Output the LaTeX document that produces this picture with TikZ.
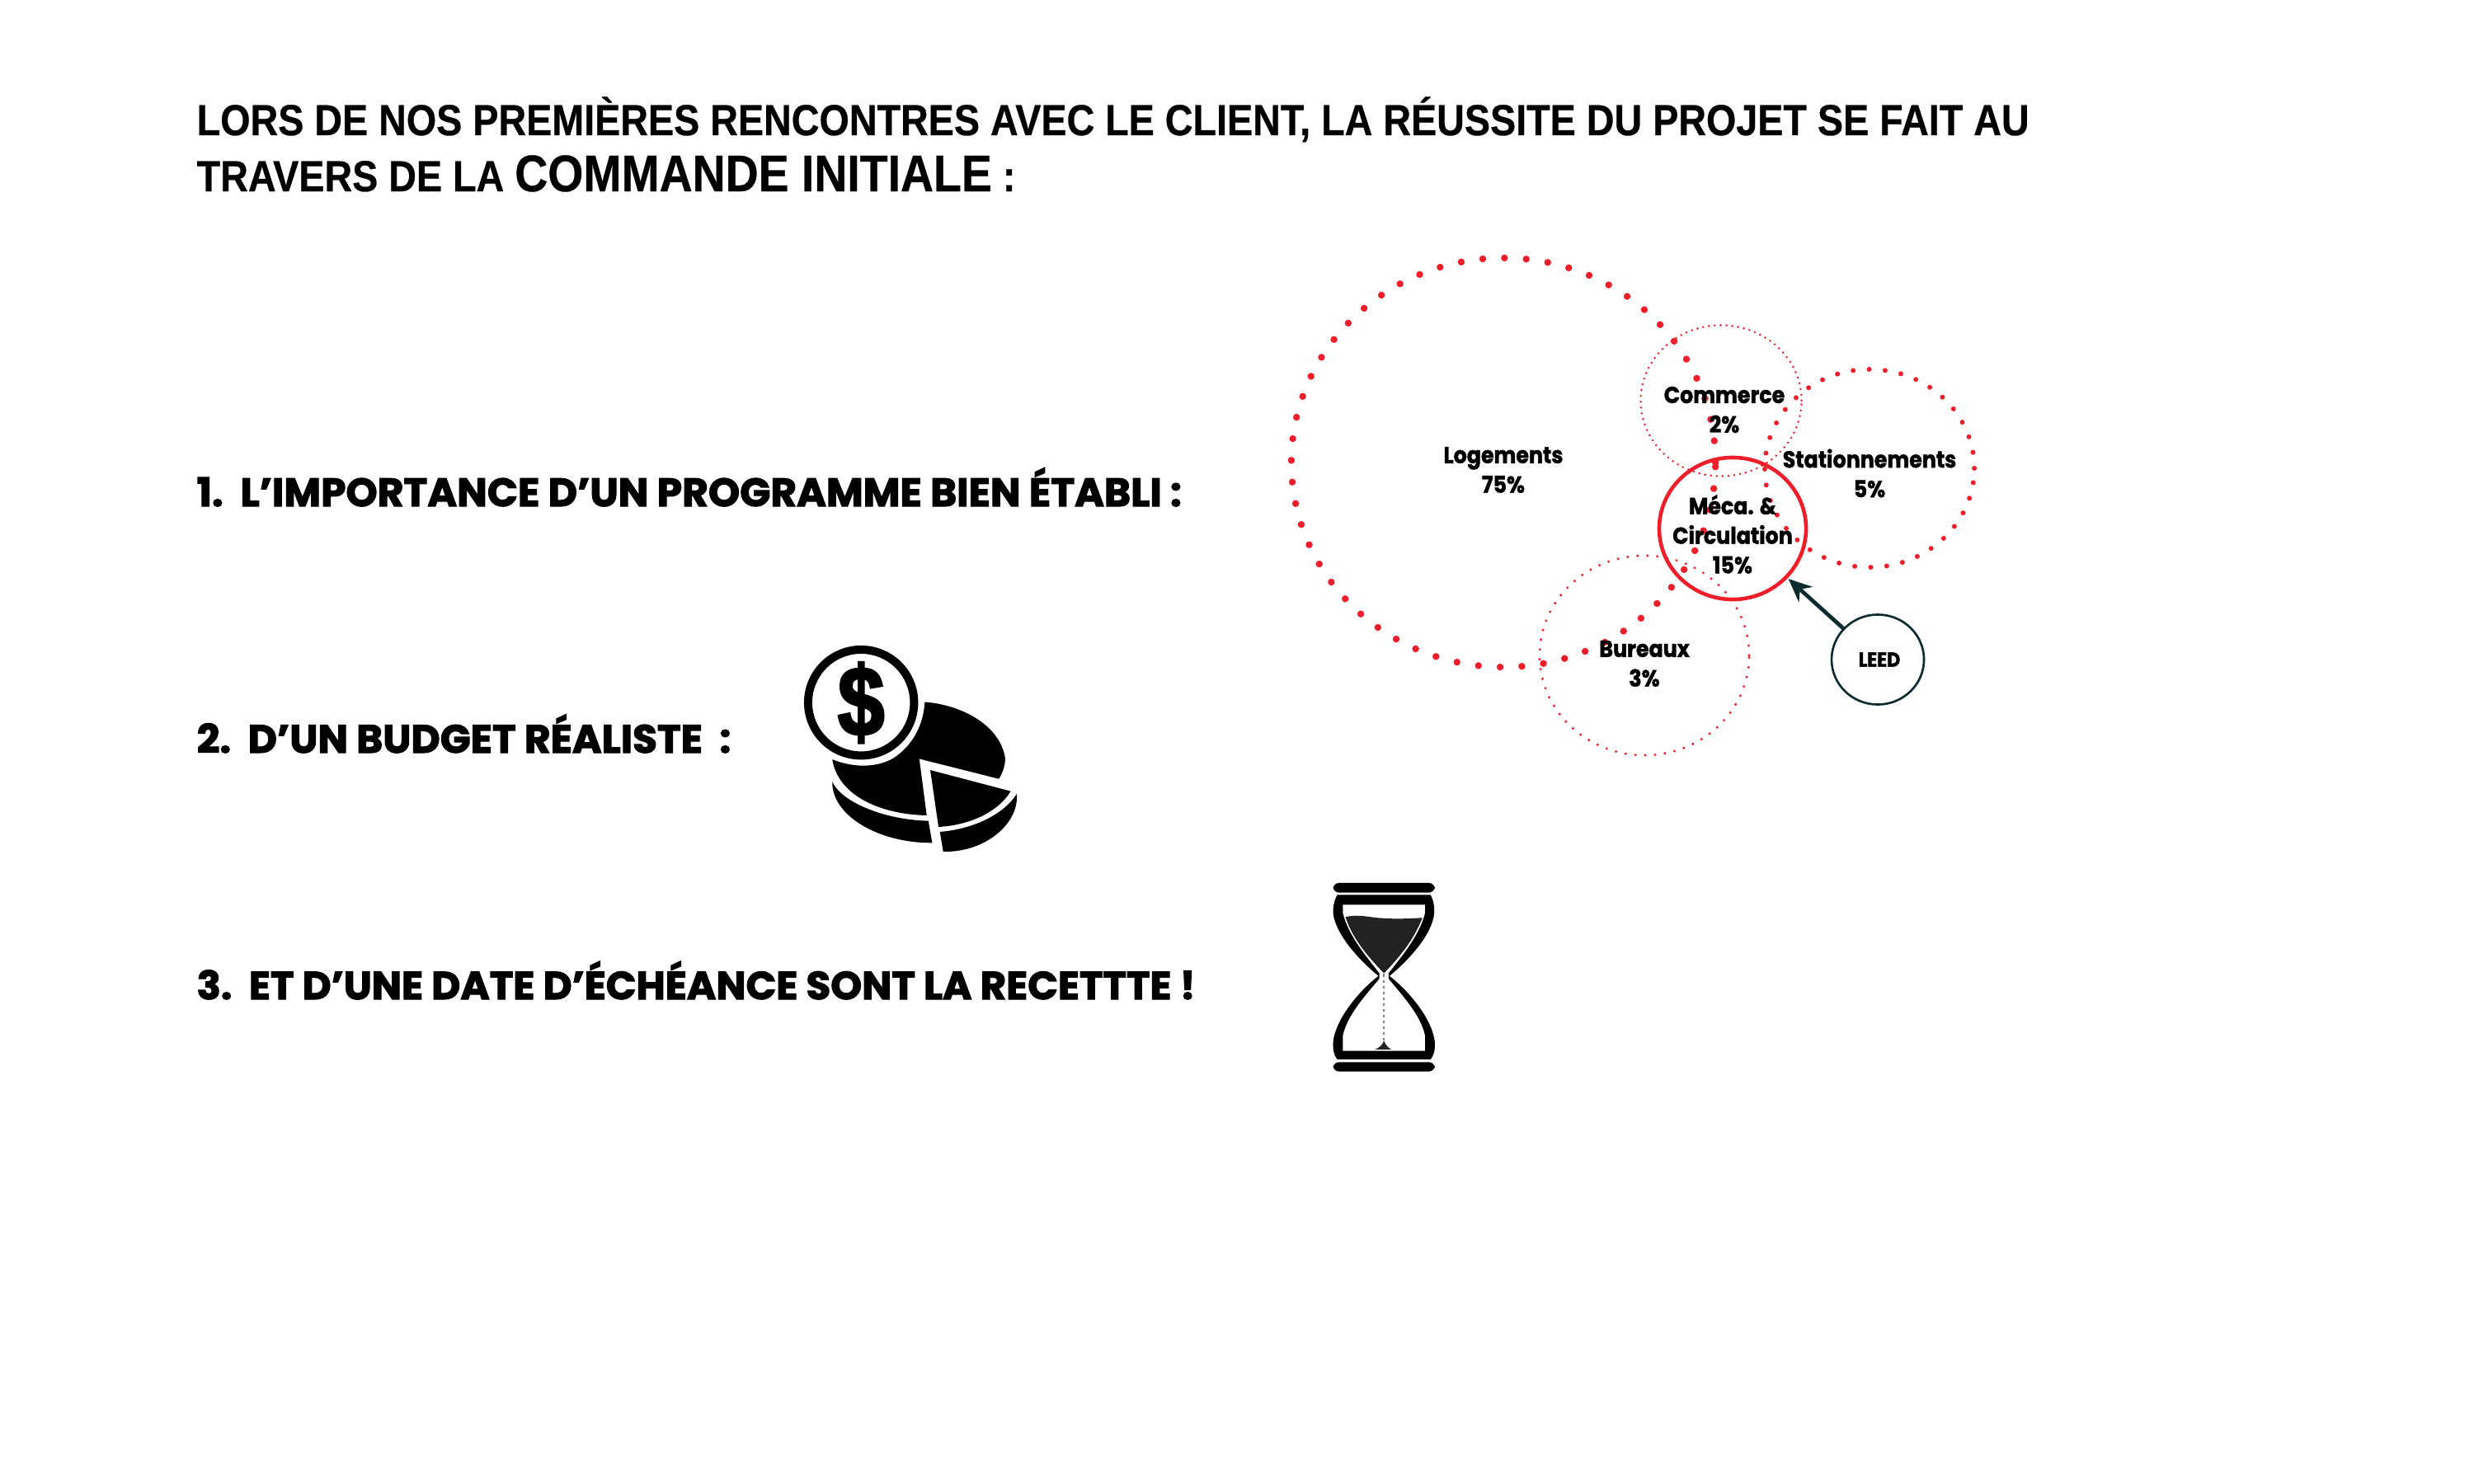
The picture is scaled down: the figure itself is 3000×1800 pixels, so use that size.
\documentclass[tikz,border=0pt]{standalone}
\usepackage{fontspec}
\usetikzlibrary{shapes.geometric,arrows.meta}
\setmainfont[FakeStretch=0.885,FakeBold=0.5]{Liberation Sans}
\newfontfamily\heavy[FakeStretch=1.015,FakeBold=2.4]{Poppins}
\newfontfamily\heavysmall[FakeStretch=0.9,FakeBold=1.6]{Poppins}
\newfontfamily\dollarfont[FakeStretch=0.85,FakeBold=2.5]{Liberation Sans}
\definecolor{redc}{HTML}{EE1F2B}
\definecolor{darkc}{HTML}{0D2A2E}
\definecolor{sandc}{HTML}{222222}
\tikzset{
  ring/.style={ellipse,inner sep=0pt,outer sep=0pt,draw=redc,line cap=round},
  bigdots/.style={ring,line width=2.4pt,dash pattern=on 0pt off 7.5pt},
  middots/.style={ring,line width=1.7pt,dash pattern=on 0pt off 5.535pt},
  finedots/.style={ring,line width=0.95pt,dash pattern=on 0pt off 3.4pt},
  tinydots/.style={ring,line width=0.8pt,dash pattern=on 0pt off 2.02pt},
  lab/.style={font=\heavysmall\bfseries\fontsize{8}{10.2}\selectfont,align=center,inner sep=0pt},
  heading/.style={font=\bfseries\fontsize{15}{17}\selectfont,anchor=base west,inner sep=0pt},
  itemtext/.style={font=\heavy\bfseries\fontsize{13.6}{16}\selectfont,anchor=base west,inner sep=0pt},
  icon/.style={fill=black,draw=none}
}
\begin{document}
\begin{tikzpicture}[x=0.01cm,y=-0.01cm]
\useasboundingbox (0,0) rectangle (3000,1800);
% headings
\node[heading] (h1) at (238,164) {LORS DE NOS PREMIÈRES RENCONTRES AVEC LE CLIENT, LA RÉUSSITE DU PROJET SE FAIT AU};
\node[heading] (h2) at (238,232) {TRAVERS DE LA {\fontsize{17.8}{17}\selectfont COMMANDE INITIALE} :};
% list
\node[itemtext,font=\heavy\bfseries\fontsize{13.65}{16}\selectfont] (i1) at (238,614) {1.\ \ L’IMPORTANCE D’UN PROGRAMME BIEN ÉTABLI :};
\node[itemtext] (i2) at (238,913) {2.\ \ D’UN BUDGET RÉALISTE\ \ :};
\node[itemtext,font=\heavy\bfseries\fontsize{13.5}{16}\selectfont] (i3) at (238,1212) {3.\ \ ET D’UNE DATE D’ÉCHÉANCE SONT LA RECETTTE !};
% diagram
\node[bigdots,minimum width=5.14cm,minimum height=4.96cm] (log) at (1823,561) {};
\node[tinydots,minimum width=1.95cm,minimum height=1.83cm] (com) at (2087,486) {};
\node[middots,minimum width=2.54cm,minimum height=2.40cm] (sta) at (2267,568) {};
\node[finedots,minimum width=2.54cm,minimum height=2.42cm] (bur) at (1994,795) {};
\node[ring,line width=1.3pt,minimum width=1.78cm,minimum height=1.72cm] (meca) at (2101,641) {};
\node[ellipse,draw=darkc,line width=0.75pt,inner sep=0pt,outer sep=0pt,minimum width=1.12cm,minimum height=1.09cm] (leed) at (2277,800) {};
\draw[darkc,line width=1.35pt,-{Stealth[length=8pt,width=7pt]},shorten >=1pt] (leed) -- (meca);
\node[lab] (tlog) at (1823,570) {Logements\\75\%};
\node[lab] (tcom) at (2091,497) {Commerce\\2\%};
\node[lab] (tsta) at (2267,574) {Stationnements\\5\%};
\node[lab] (tmec) at (2101,648) {Méca. \&\\Circulation\\15\%};
\node[lab] (tbur) at (1994,805) {Bureaux\\3\%};
\node[font=\heavysmall\bfseries\fontsize{7}{8}\selectfont,inner sep=0pt] (tlee) at (2279,800) {LEED};
% budget icon
\begin{scope}[shift={(950,760)},x=0.003333cm,y=-0.003333cm]
\fill[icon,even odd rule] (283,277) circle (208) (283,277) circle (178);
\node[font=\dollarfont\bfseries\fontsize{34}{34}\selectfont,inner sep=0pt] (dollar) at (283,277) {\$};
\fill[icon] (515,275) .. controls (650,285) and (790,360) .. (808,480) .. controls (808,510) and (797,535) .. (785,555) -- (495,482) -- (522,688) .. controls (360,685) and (200,620) .. (178,484) .. controls (240,510) and (330,520) .. (400,480) .. controls (470,435) and (510,360) .. (515,275) -- cycle;
\fill[icon] (178,565) .. controls (210,640) and (370,705) .. (528,708) -- (542,788) .. controls (350,790) and (175,690) .. (178,565) -- cycle;
\fill[icon] (535,523) -- (828,600) .. controls (780,680) and (670,725) .. (565,730) -- cycle;
\fill[icon] (850,610) .. controls (860,720) and (730,825) .. (582,820) -- (570,748) .. controls (680,740) and (800,690) .. (850,610) -- cycle;
\end{scope}
% hourglass icon
\begin{scope}[shift={(1580,1050)},x=0.003333cm,y=-0.003333cm]
\fill[icon,rounded corners=2pt] (110,63) rectangle (480,98);
\fill[icon,rounded corners=2pt] (110,716) rectangle (480,750);
\fill[icon,even odd rule] (125,106) -- (465,106) .. controls (475,125) and (480,150) .. (478,175) .. controls (470,250) and (390,340) .. (315,402) .. controls (390,460) and (470,560) .. (480,640) .. controls (482,670) and (478,690) .. (465,706) -- (125,706) .. controls (112,690) and (108,670) .. (110,640) .. controls (120,560) and (200,460) .. (275,402) .. controls (200,340) and (120,250) .. (110,175) .. controls (108,150) and (115,125) .. (125,106) -- cycle
(145,142) -- (445,142) -- (445,172) .. controls (425,255) and (360,330) .. (312,392) -- (312,412) .. controls (360,470) and (430,545) .. (445,620) -- (445,675) -- (145,675) -- (145,620) .. controls (160,545) and (230,470) .. (278,412) -- (278,392) .. controls (230,330) and (165,255) .. (145,172) -- cycle;
\fill[sandc] (155,187) .. controls (210,175) and (240,190) .. (300,192) .. controls (350,195) and (400,192) .. (435,190) .. controls (400,280) and (340,345) .. (295,392) .. controls (250,345) and (180,270) .. (155,187) -- cycle;
\fill[sandc] (262,670) .. controls (285,660) and (290,650) .. (295,638) .. controls (300,650) and (305,660) .. (322,670) -- cycle;
\draw[gray,line width=0.5pt,dash pattern=on 1pt off 1pt] (295,395) -- (295,640);
\end{scope}
\end{tikzpicture}
\end{document}
